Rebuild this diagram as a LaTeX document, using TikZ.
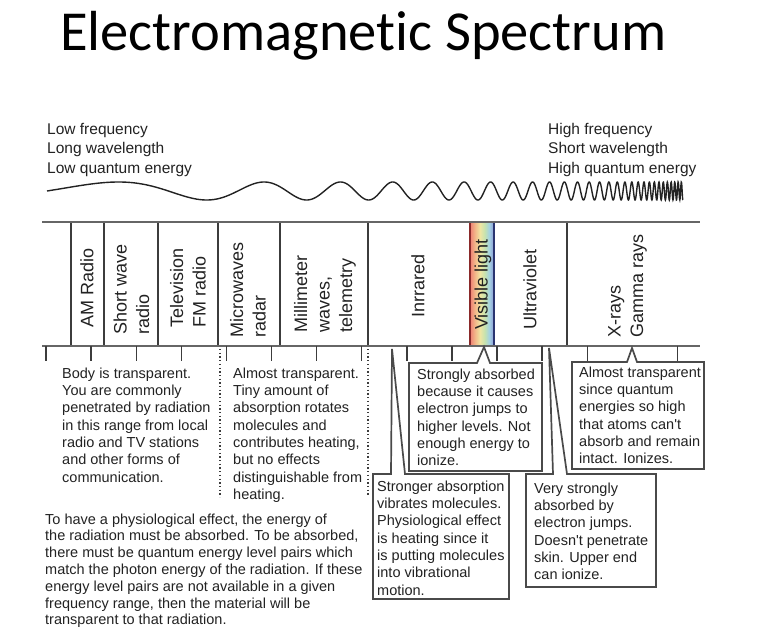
\documentclass[tikz,border=0pt]{standalone}
\usepackage{fontspec}
\setmainfont{Liberation Sans}
\newfontfamily\titlefont{Carlito}[Ligatures=NoCommon]
\definecolor{ink}{HTML}{222222}
\definecolor{sepgray}{HTML}{3C3C3C}
\definecolor{rulegray}{HTML}{666666}
\definecolor{boxgray}{HTML}{4A4A4A}
\definecolor{specR}{HTML}{EE7F74}
\definecolor{specO}{HTML}{F2B98A}
\definecolor{specY}{HTML}{EFE6A2}
\definecolor{specG}{HTML}{C5E2B0}
\definecolor{specC}{HTML}{A4D2E2}
\definecolor{specB}{HTML}{8C9AD6}
\definecolor{edgeR}{HTML}{8A2A2A}
\definecolor{edgeB}{HTML}{2A3470}
\pgfdeclarehorizontalshading{spectrumshade}{100bp}{color(0bp)=(specR); color(25bp)=(specR); color(36bp)=(specO); color(46bp)=(specY); color(56bp)=(specG); color(65bp)=(specC); color(75bp)=(specB); color(100bp)=(specB)}
\begin{document}
\begin{tikzpicture}[x=1pt,y=-1pt,
  bodytext/.style={font=\fontsize{14.5}{17.3}\selectfont, text=ink, align=left, inner sep=0pt, anchor=north west},
  headtext/.style={font=\fontsize{15.5}{19.5}\selectfont, text=ink, align=left, inner sep=0pt, anchor=north west},
  bandlabel/.style={font=\fontsize{18}{22.5}\selectfont, text=ink, align=left, inner sep=0pt, anchor=west, rotate=90},
  sepline/.style={draw=sepgray, line width=1.4pt},
  mainrule/.style={draw=rulegray, line width=2.2pt},
  tickmark/.style={draw=sepgray, line width=1.4pt},
  dotline/.style={draw=sepgray, line width=1.5pt, dash pattern=on 1.3pt off 2.4pt},
  calloutbox/.style={draw=boxgray, line width=1.7pt, fill=white, line join=miter},
  wavecurve/.style={draw=ink, line width=1.4pt}]
\useasboundingbox (0,0) rectangle (773,628);

% title
\node[anchor=base west, inner sep=0pt, font=\titlefont\fontsize{56.5}{62}\selectfont] (title) at (60,51) {Electromagnetic Spectrum};

% heading texts
\node[headtext] (lowtxt) at (47,120.4) {\strut Low frequency\\Long wavelength\\Low quantum energy};
\node[headtext] (hightxt) at (548,120.4) {\strut High frequency\\Short wavelength\\High quantum energy};

% chirped wave
\draw[wavecurve] plot[domain=47:683, samples=2600] (\x, {191 - 9*sin(167.76*(exp(3.82*(\x-47)/636)-1) + 2880*((\x-47)/636)^16)});

% visible band
\fill[shading=spectrumshade] (470,222) rectangle (494,346);
\draw[edgeR, line width=1.4pt] (470,222) -- (470,346);
\draw[edgeB, line width=1.4pt] (494,222) -- (494,346);

% separators
\foreach \sx in {71,104,158,218,280,368,567}
  \draw[sepline] (\sx,222) -- (\sx,346);

% main rules
\draw[mainrule] (42,222) -- (700,222);
\draw[mainrule] (42,346) -- (700,346);

% band labels
\node[bandlabel] (am) at (87,328) {AM Radio};
\node[bandlabel] (sw) at (131.5,335) {Short wave\\radio};
\node[bandlabel] (tv) at (188,328) {Television\\FM radio};
\node[bandlabel] (mw) at (248,338) {Microwaves\\radar};
\node[bandlabel] (mm) at (325,333) {Millimeter\\waves,\\telemetry};
\node[bandlabel] (ir) at (418,318) {Inrrared};
\node[bandlabel] (vis) at (483,330) {Visible light};
\node[bandlabel] (uv) at (530,330) {Ultraviolet};
\node[bandlabel] (xr) at (627.5,338) {X-rays\\Gamma rays};

% ticks
\foreach \n in {0,...,12,14}
  \draw[tickmark] ({46+45.1*\n},346) -- ({46+45.1*\n},361);

% dotted dividers
\draw[dotline] (220,349) -- (220,497);
\draw[dotline] (368,349) -- (368,495);

% callouts
\draw[calloutbox] (409,363) -- (477,363) -- (484,347) -- (490,363) -- (542,363) -- (542,471) -- (409,471) -- cycle;
\draw[calloutbox] (572,362) -- (627,362) -- (632,348) -- (637,362) -- (704,362) -- (704,469) -- (572,469) -- cycle;
\draw[calloutbox] (391,474) -- (392,349) -- (405,474) -- (509,474) -- (509,599) -- (373,599) -- (373,474) -- cycle;
\draw[calloutbox] (553,474) -- (549,348) -- (567,474) -- (656,474) -- (656,587) -- (526,587) -- (526,474) -- cycle;

% body texts
\node[bodytext] (radiotxt) at (62,365.9) {\strut Body is transparent.\\You are commonly\\penetrated by radiation\\in this range from local\\radio and TV stations\\and other forms of\\communication.};
\node[bodytext] (mwtxt) at (233,365.9) {\strut Almost transparent.\\Tiny amount of\\absorption rotates\\molecules and\\contributes heating,\\but no effects\\distinguishable from\\heating.};
\node[bodytext] (vistxt) at (417,366.9) {\strut Strongly absorbed\\because it causes\\electron jumps to\\higher levels. Not\\enough energy to\\ionize.};
\node[bodytext] (xrtxt) at (579,364.9) {\strut Almost transparent\\since quantum\\energies so high\\that atoms can\textquotesingle t\\absorb and remain\\intact. Ionizes.};
\node[bodytext] (irtxt) at (377,478.9) {\strut Stronger absorption\\vibrates molecules.\\Physiological effect\\is heating since it\\is putting molecules\\into vibrational\\motion.};
\node[bodytext] (uvtxt) at (534,480.9) {\strut Very strongly\\absorbed by\\electron jumps.\\Doesn\textquotesingle t penetrate\\skin. Upper end\\can ionize.};
\node[bodytext, font=\fontsize{14.5}{16.8}\selectfont] (notetxt) at (45,512.2) {\strut To have a physiological effect, the energy of\\the radiation must be absorbed. To be absorbed,\\there must be quantum energy level pairs which\\match the photon energy of the radiation. If these\\energy level pairs are not available in a given\\frequency range, then the material will be\\transparent to that radiation.};
\end{tikzpicture}
\end{document}
